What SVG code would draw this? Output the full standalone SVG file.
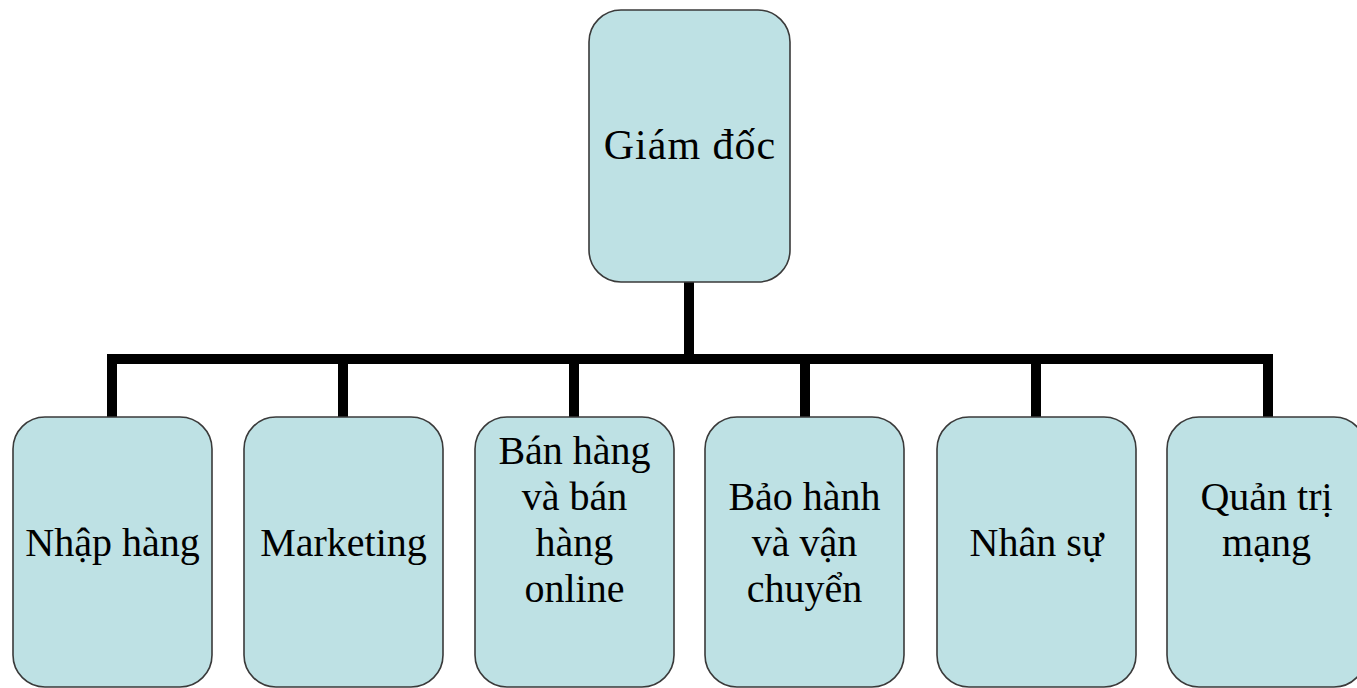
<svg xmlns="http://www.w3.org/2000/svg" width="1357" height="688" viewBox="0 0 1357 688">
<style>
.box{fill:#bee1e4;stroke:#3a3a3a;stroke-width:1.6}
.lbl{font-family:"Liberation Serif","Times New Roman",serif;font-size:40px;fill:#000;text-anchor:middle}
.conn{fill:none;stroke:#000;stroke-width:10;stroke-linecap:butt;stroke-linejoin:miter}
</style>
<rect width="1357" height="688" fill="#fff"/>
<g id="connectors">
<path class="conn" d="M689,282 V359"/>
<path class="conn" d="M112,417 V359 H1268 V417"/>
<path class="conn" d="M343,359 V417"/>
<path class="conn" d="M574,359 V417"/>
<path class="conn" d="M805,359 V417"/>
<path class="conn" d="M1036,359 V417"/>
</g>
<g id="giam-doc">
<rect class="box" x="589" y="10" width="201" height="272" rx="32"/>
<text class="lbl" x="690" y="159" style="font-size:42px;letter-spacing:1px">Giám đốc</text>
</g>
<g id="nhap-hang">
<rect class="box" x="13" y="417" width="199" height="270" rx="32"/>
<text class="lbl" x="112.5" y="556">Nhập hàng</text>
</g>
<g id="marketing">
<rect class="box" x="244" y="417" width="199" height="270" rx="32"/>
<text class="lbl" x="343.5" y="556">Marketing</text>
</g>
<g id="ban-hang">
<rect class="box" x="475" y="417" width="199" height="270" rx="32"/>
<text class="lbl" x="574.5" y="464">Bán hàng</text>
<text class="lbl" x="574.5" y="510">và bán</text>
<text class="lbl" x="574.5" y="556">hàng</text>
<text class="lbl" x="574.5" y="602">online</text>
</g>
<g id="bao-hanh">
<rect class="box" x="705" y="417" width="199" height="270" rx="32"/>
<text class="lbl" x="804.5" y="510">Bảo hành</text>
<text class="lbl" x="804.5" y="556">và vận</text>
<text class="lbl" x="804.5" y="602">chuyển</text>
</g>
<g id="nhan-su">
<rect class="box" x="937" y="417" width="199" height="270" rx="32"/>
<text class="lbl" x="1036.5" y="556">Nhân sự</text>
</g>
<g id="quan-tri-mang">
<rect class="box" x="1167" y="417" width="199" height="270" rx="32"/>
<text class="lbl" x="1266.5" y="510">Quản trị</text>
<text class="lbl" x="1266.5" y="556">mạng</text>
</g>
</svg>
